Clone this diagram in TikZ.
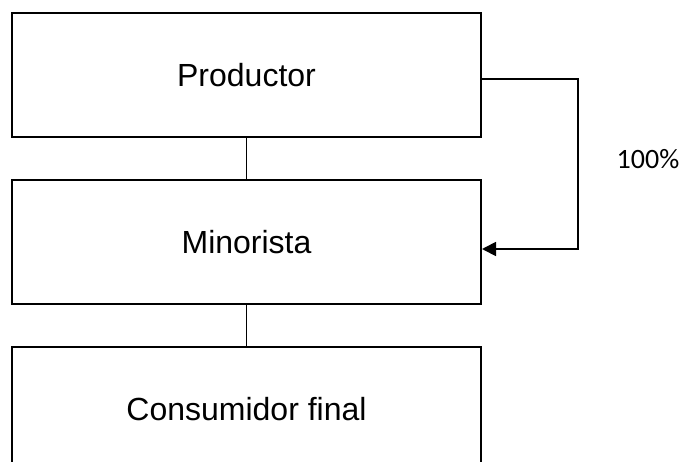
\documentclass[tikz,border=0pt]{standalone}
\usepackage{fontspec}
\setmainfont{Liberation Sans}
\newfontfamily\pctfont{Carlito}
\usetikzlibrary{positioning,arrows.meta}

\tikzset{
	stage/.style={draw, line width=2pt, minimum width=469pt, minimum height=124pt,
		inner sep=0pt, font=\fontsize{32}{38}\selectfont},
	link/.style={line width=1.5pt},
	flow/.style={line width=1.8pt, -{Triangle[length=14pt,width=14pt]}}
}

\begin{document}
\begin{tikzpicture}[x=1pt,y=1pt]
	\useasboundingbox (0,0) rectangle (684,461);
	\clip (0,0) rectangle (684,461);
	
	\node[stage] (prod) at (246.5,386) {Productor};
	\node[stage, below=41pt of prod] (mino) {Minorista};
	\node[stage, below=41pt of mino] (cons) {Consumidor final};
	
	\coordinate (turn) at (578,382);
	\node[font=\pctfont\fontsize{28}{34}\selectfont] (pct) at (648,302) {100\%};
	
	\draw[link] (prod) -- (mino);
	\draw[link] (mino) -- (cons);
	\draw[flow] ([yshift=-4pt]prod.east) -- (turn) |- ([yshift=-7pt]mino.east);
\end{tikzpicture}
\end{document}
